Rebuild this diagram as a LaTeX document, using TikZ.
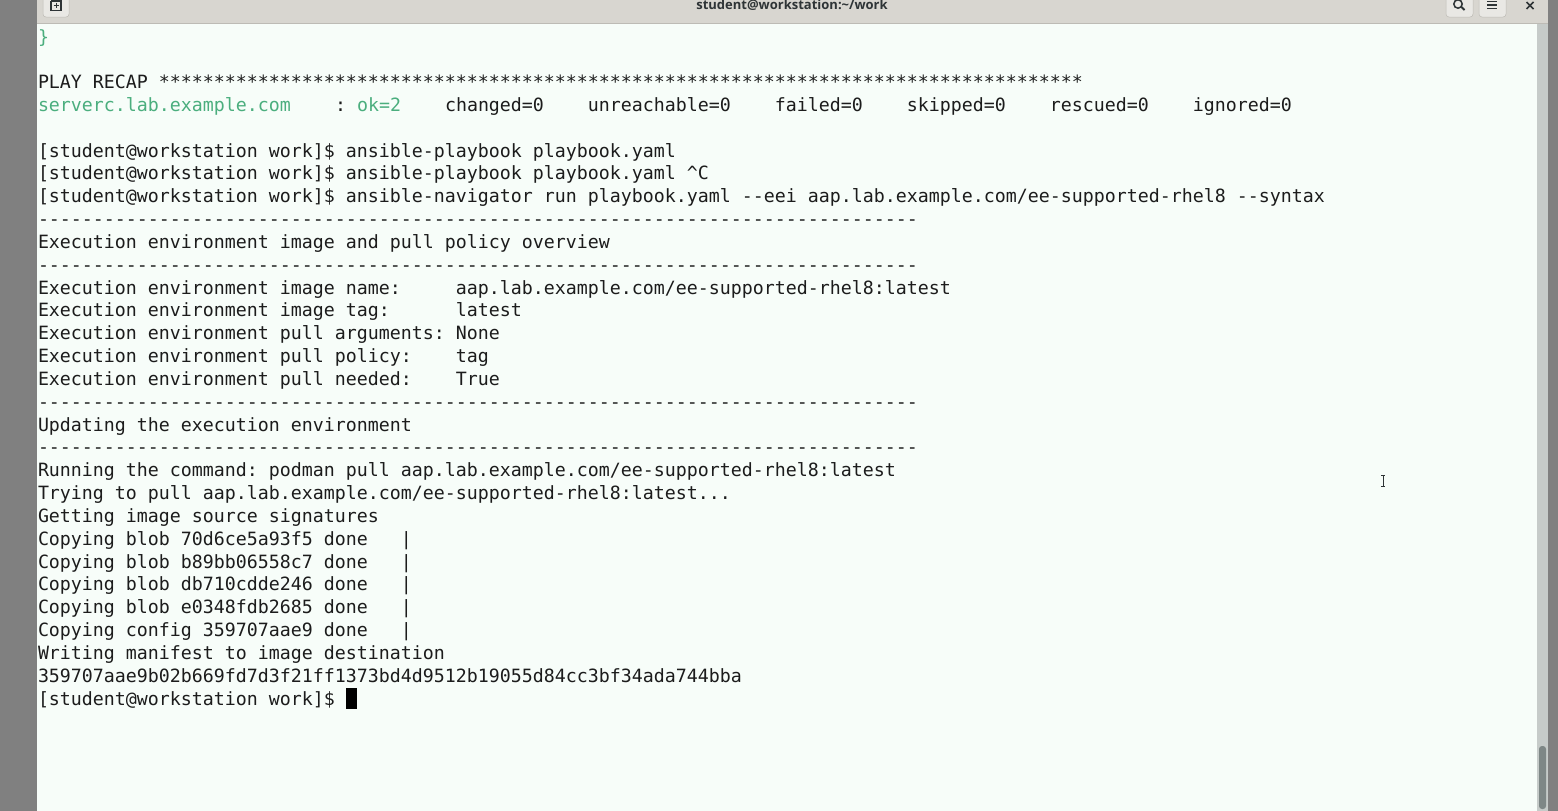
\documentclass[tikz,border=0pt]{standalone}
\usepackage{fontspec}
\setmonofont{DejaVu Sans Mono}
\setsansfont{Open Sans}
\usepackage{xcolor}
\definecolor{termbg}{HTML}{F7FDF9}
\definecolor{termfg}{HTML}{1C1C1C}
\definecolor{termgreen}{HTML}{4BAE7E}
\definecolor{barbg}{HTML}{D8D6D0}
\definecolor{barline}{HTML}{BDBBB5}
\definecolor{barbtn}{HTML}{E9E8E4}
\definecolor{trough}{HTML}{C6CBC9}
\definecolor{thumb}{HTML}{7E8786}
\definecolor{sidegray}{HTML}{808080}
\definecolor{icondark}{HTML}{2E3436}
\tikzset{
	termline/.style={anchor=base west, inner sep=0pt, outer sep=0pt, text=termfg, font=\fontsize{18.27pt}{22pt}\ttfamily},
	greenline/.style={termline, text=termgreen},
	barbutton/.style={fill=barbtn, draw=barline, line width=0.5pt, rounded corners=3pt},
}
\begin{document}
\begin{tikzpicture}[x=1pt,y=-1pt]
	\useasboundingbox (0,0) rectangle (1558,811);
	% window
	\fill[sidegray] (0,0) rectangle (1558,811);
	\fill[termbg] (37,24) rectangle (1537,811);
	\fill[trough] (1537,24) rectangle (1548,811);
	\fill[thumb, rounded corners=3pt] (1539,746) rectangle (1546,809);
	\fill[barbg] (37,0) rectangle (1548,23);
	\draw[barline, line width=1pt] (37,23.5)--(1548,23.5);
	% header buttons
	\draw[barbutton] (43,-5) rectangle (69,17);
	\draw[barbutton] (1446,-5) rectangle (1473,17);
	\draw[barbutton] (1479,-5) rectangle (1506,17);
	\draw[icondark, line width=1.3pt] (51,10)--(51,1) (51,1)--(61,1)--(61,10) (50,10.5)--(62,10.5);
	\draw[icondark, line width=1pt] (53.5,5)--(58.5,5) (56,2.5)--(56,7.5);
	\draw[icondark, line width=1.5pt] (1458,4) circle (4.2);
	\draw[icondark, line width=2pt] (1461.5,7)--(1464.5,10);
	\foreach \y in {1.5,5,8.5}
	{
		\draw[icondark, line width=1.6pt] (1487,\y)--(1497,\y);
	}
	\draw[icondark, line width=1.7pt] (1526.5,2)--(1533.5,9) (1526.5,9)--(1533.5,2);
	\node[inner sep=0pt, text=icondark, font=\fontsize{13pt}{15pt}\sffamily\fontseries{sb}\selectfont] (wintitle) at (792,5) {student@workstation:\textasciitilde/work};
	% terminal rows, one unit is a character cell
	\begin{scope}[x=11pt,y=-22.83pt,shift={(38pt,-43pt)}]
	\end{scope}
	\begin{scope}[shift={(38,43)},x=11pt,y=-22.83pt]
	\node[greenline] (row0) at (0,0) {\}};
	\node[termline] (row2) at (0,2) {PLAY RECAP ************************************************************************************};
	\node[greenline] (row3) at (0,3) {serverc.lab.example.com};
	\node[termline] (row3b) at (27,3) {:};
	\node[greenline] (row3c) at (29,3) {ok=2};
	\node[termline] (row3d) at (37,3) {changed=0~~~~unreachable=0~~~~failed=0~~~~skipped=0~~~~rescued=0~~~~ignored=0};
	\node[termline] (row5) at (0,5) {[student@workstation work]\$ ansible-playbook playbook.yaml};
	\node[termline] (row6) at (0,6) {[student@workstation work]\$ ansible-playbook playbook.yaml \textasciicircum C};
	\node[termline] (row7) at (0,7) {[student@workstation work]\$ ansible-navigator run playbook.yaml --eei aap.lab.example.com/ee-supported-rhel8 --syntax};
	\foreach \i in {8,10,16,18}
	{
		\node[termline] (row\i) at (0,\i) {--------------------------------------------------------------------------------};
	}
	\node[termline] (row9) at (0,9) {Execution environment image and pull policy overview};
	\node[termline] (row11) at (0,11) {Execution environment image name:~~~~~aap.lab.example.com/ee-supported-rhel8:latest};
	\node[termline] (row12) at (0,12) {Execution environment image tag:~~~~~~latest};
	\node[termline] (row13) at (0,13) {Execution environment pull arguments: None};
	\node[termline] (row14) at (0,14) {Execution environment pull policy:~~~~tag};
	\node[termline] (row15) at (0,15) {Execution environment pull needed:~~~~True};
	\node[termline] (row17) at (0,17) {Updating the execution environment};
	\node[termline] (row19) at (0,19) {Running the command: podman pull aap.lab.example.com/ee-supported-rhel8:latest};
	\node[termline] (row20) at (0,20) {Trying to pull aap.lab.example.com/ee-supported-rhel8:latest...};
	\node[termline] (row21) at (0,21) {Getting image source signatures};
	\node[termline] (row22) at (0,22) {Copying blob 70d6ce5a93f5 done~~~|};
	\node[termline] (row23) at (0,23) {Copying blob b89bb06558c7 done~~~|};
	\node[termline] (row24) at (0,24) {Copying blob db710cdde246 done~~~|};
	\node[termline] (row25) at (0,25) {Copying blob e0348fdb2685 done~~~|};
	\node[termline] (row26) at (0,26) {Copying config 359707aae9 done~~~|};
	\node[termline] (row27) at (0,27) {Writing manifest to image destination};
	\node[termline] (row28) at (0,28) {359707aae9b02b669fd7d3f21ff1373bd4d9512b19055d84cc3bf34ada744bba};
	\node[termline] (row29) at (0,29) {[student@workstation work]\$};
	\end{scope}
	% cursor and mouse pointer
	\fill[black] (346,688) rectangle (357,709);
	\draw[icondark, line width=0.9pt] (1383,476)--(1383,486) (1381,475.5)--(1385,475.5) (1381,486.5)--(1385,486.5);
\end{tikzpicture}
\end{document}
